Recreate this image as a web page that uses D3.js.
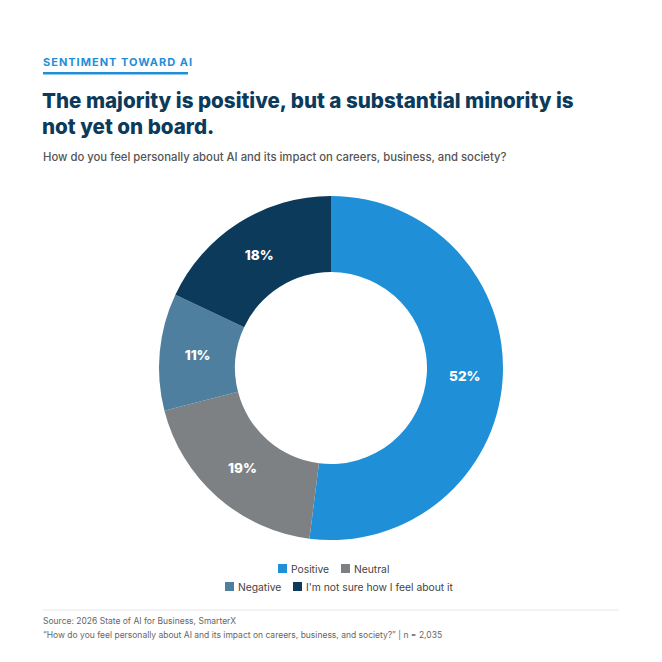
<!DOCTYPE html>
<html><head><meta charset="utf-8">
<script src="https://cdn.jsdelivr.net/npm/d3@7"></script>
<style>body{margin:0;background:#fff;font-family:Inter,"Open Sans",sans-serif}</style>
</head><body><svg id="c" width="662" height="662"></svg>
<script>
const categories=["Positive","Neutral","Negative","I'm not sure how I feel about it"];
const values=[52,19,11,18];
const colors=["#1f8fd7","#7e8184","#4e7f9f","#0c3a5b"];
const svg=d3.select("#c");
svg.append("text").attr("x",43).attr("y",66).text("SENTIMENT TOWARD AI").attr("fill","#1f8fd7").attr("font-size",11).attr("font-weight",700).attr("letter-spacing",1);
svg.append("rect").attr("x",43).attr("y",72).attr("width",145).attr("height",2.5).attr("fill","#1f8fd7");
const t=svg.append("text").attr("fill","#0c3a5b").attr("font-size",20.6).attr("font-weight",800);
t.append("tspan").attr("x",42).attr("y",108).text("The majority is positive, but a substantial minority is");
t.append("tspan").attr("x",42).attr("y",134).text("not yet on board.");
svg.append("text").attr("x",43).attr("y",161).text("How do you feel personally about AI and its impact on careers, business, and society?").attr("fill","#555").attr("font-size",11.3).attr("font-weight",500);
const g=svg.append("g").attr("transform","translate(331,368)");
const pie=d3.pie().sort(null)(values);
const arc=d3.arc().innerRadius(96).outerRadius(172);
const larc=d3.arc().innerRadius(134).outerRadius(134);
g.selectAll("path").data(pie).join("path").attr("d",arc).attr("fill",(d,i)=>colors[i]);
g.selectAll("text").data(pie).join("text").attr("transform",d=>`translate(${larc.centroid(d)})`).attr("text-anchor","middle").attr("dy","0.35em").attr("fill","#fff").attr("font-size",13.5).attr("font-weight",800).text(d=>d.data+"%");
const leg=[[0,286,569],[1,349,569],[2,233,587],[3,301,587]];
leg.forEach(([i,x,y])=>{
 svg.append("rect").attr("x",x-8).attr("y",y-5).attr("width",9).attr("height",9).attr("fill",colors[i]);
 svg.append("text").attr("x",x+5).attr("y",y+4).text(categories[i]).attr("fill","#444").attr("font-size",10.3);
});
svg.append("line").attr("x1",43).attr("x2",619).attr("y1",610).attr("y2",610).attr("stroke","#e6e6e6");
svg.append("text").attr("x",43).attr("y",624).text("Source: 2026 State of AI for Business, SmarterX").attr("fill","#666").attr("font-size",8.5);
svg.append("text").attr("x",43).attr("y",638).text("\u201cHow do you feel personally about AI and its impact on careers, business, and society?\u201d | n = 2,035").attr("fill","#666").attr("font-size",8.5);
</script></body></html>
